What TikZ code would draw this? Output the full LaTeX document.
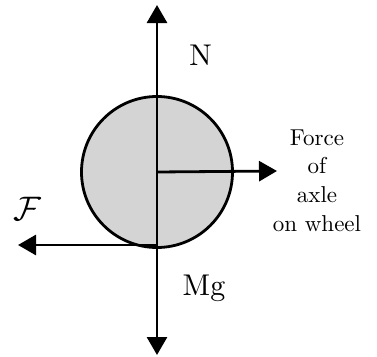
\RequirePackage{fix-cm}
\documentclass[tikz,border=0pt]{standalone}
\usepackage{fontspec}
\setmainfont{lmroman10-regular.otf}
\usetikzlibrary{arrows.meta}
\begin{document}
\begin{tikzpicture}[x=1pt,y=-1pt,
  force/.style={line width=2.8pt,-{Triangle[length=18pt,width=20pt]}},
  wheelshape/.style={circle,draw,line width=2.8pt,fill=black!17,minimum size=151pt,inner sep=0pt,outer sep=0pt},
  biglabel/.style={font=\fontsize{30}{30}\selectfont,inner sep=0pt},
  sidelabel/.style={font=\fontsize{23}{28.8}\selectfont,align=center,inner sep=0pt}]
\useasboundingbox (0,0) rectangle (377,356);
\node[wheelshape] (wheel) at (157,172) {};
\coordinate (top) at (157,5);
\coordinate (bottom) at (157,355);
\coordinate (contact) at (157,245);
\coordinate (rtip) at (277,171);
\coordinate (ltip) at (18,245);
\draw[line width=2.8pt,{Triangle[length=18pt,width=20pt]}-{Triangle[length=18pt,width=20pt]}] (bottom) -- (top);
\draw[force] (wheel.center) -- (rtip);
\draw[force] (contact) -- (ltip);
\node[biglabel,anchor=base] (N) at (200.5,65) {N};
\node[biglabel,anchor=base] (Mg) at (204,295) {Mg};
\node[sidelabel,anchor=base] (axle) at (317,231.5) {Force\\of\\axle\\on wheel};
\node[font=\fontsize{34}{34}\selectfont,inner sep=0pt] (F) at (27.5,209) {$\mathcal{F}$};
\end{tikzpicture}
\end{document}
